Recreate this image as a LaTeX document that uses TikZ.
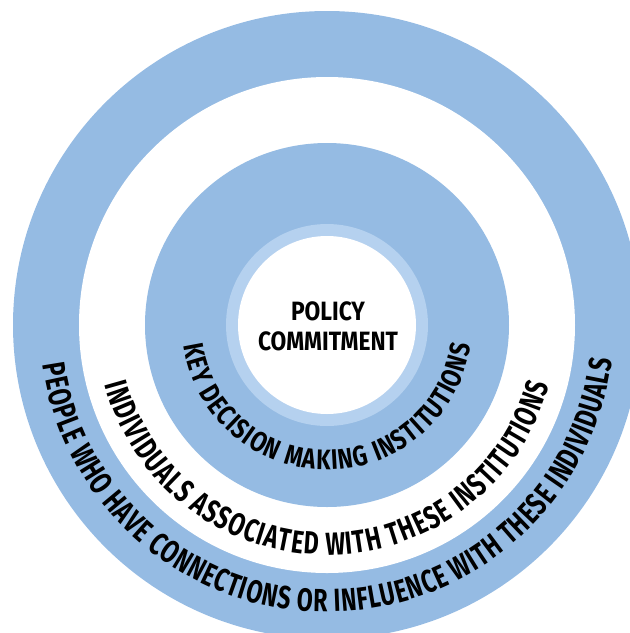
\documentclass[tikz,border=0pt]{standalone}
\usepackage{fontspec}
\newfontfamily\dincenter[FakeStretch=0.86]{Fira Sans}
\newfontfamily\dinkey[FakeStretch=0.8]{Fira Sans}
\newfontfamily\dinouter[FakeStretch=0.72]{Fira Sans}
\usetikzlibrary{decorations.text}
\definecolor{ringblue}{RGB}{149,187,227}
\definecolor{lightblue}{RGB}{181,209,239}
\tikzset{
  centertext/.style={font=\dincenter\bfseries\fontsize{26.5}{30}\selectfont, anchor=base, inner sep=0}
}
\begin{document}
\begin{tikzpicture}[x=1pt,y=1pt]
\useasboundingbox (0,0) rectangle (630,-633);
\clip (0,0) rectangle (630,-633);
\coordinate (c) at (327,-325);
\fill[ringblue] (c) circle[radius=314];
\fill[white] (c) circle[radius=248];
\fill[ringblue] (c) circle[radius=182];
\fill[lightblue] (c) circle[radius=101];
\fill[white] (c) circle[radius=89];
\node[centertext] (policy) at (328,-320) {POLICY};
\node[centertext] (commit) at (328,-350) {COMMITMENT};
\path[decorate, decoration={text along path, text align={fit to path},
  text={|\dinkey\bfseries\fontsize{28.3}{30}\selectfont|KEY DECISION MAKING INSTITUTIONS}}]
  (c) ++(188:145) arc[start angle=188, end angle=352, radius=145];
\path[decorate, decoration={text along path, text align={fit to path},
  text={|\dinouter\bfseries\fontsize{32}{34}\selectfont|INDIVIDUALS ASSOCIATED WITH THESE INSTITUTIONS}}]
  (c) ++(195:230) arc[start angle=195, end angle=345, radius=230];
\path[decorate, decoration={text along path, text align={fit to path},
  text={|\dinouter\bfseries\fontsize{32}{34}\selectfont|PEOPLE WHO HAVE CONNECTIONS OR INFLUENCE WITH THESE INDIVIDUALS}}]
  (c) ++(188:287) arc[start angle=188, end angle=353, radius=287];
\end{tikzpicture}
\end{document}
